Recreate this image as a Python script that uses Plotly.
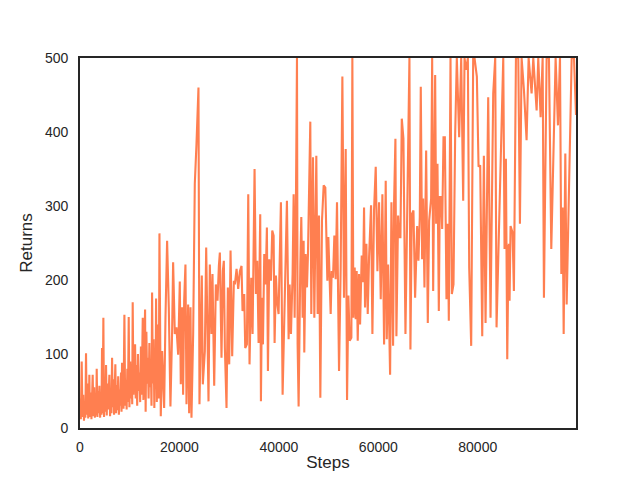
import plotly.graph_objects as go

early_steps = [0, 170, 340, 500, 650, 800, 950, 1080, 1210, 1350, 1500, 1650, 1800, 1880, 2000, 2150, 2300, 2420, 2550, 2700,
               2850, 3000, 3150, 3260, 3360, 3500, 3650, 3780, 3900, 4050, 4200, 4320, 4430, 4560, 4700, 4830, 4980, 5100, 5240, 5380,
               5520, 5650, 5780, 5910, 6050, 6180, 6320, 6450, 6580, 6720, 6850, 6980, 7110, 7250, 7400, 7540, 7680, 7820, 7960, 8100,
               8250, 8350, 8460, 8600, 8750, 8930, 9080, 9230, 9380, 9520, 9650, 9800, 9940, 10100, 10250, 10400, 10500, 10600, 10750, 10900,
               11080, 11200, 11350, 11500, 11650, 11800, 11950, 12100, 12250, 12400, 12520, 12620, 12750, 12900, 13090, 13200, 13350, 13500, 13650, 13800,
               13950, 14100, 14250, 14380, 14500, 14650, 14800, 14950, 15100, 15200, 15300, 15450, 15600, 15750, 15850, 15980]
early_returns = [40, 12, 90, 15, 45, 10, 30, 14, 101, 18, 60, 13, 35, 72, 15, 48, 12, 40, 72, 16,
                 55, 14, 38, 17, 80, 15, 50, 20, 57, 14, 42, 18, 108, 20, 149, 15, 55, 22, 85, 17,
                 60, 25, 45, 72, 16, 50, 20, 95, 28, 66, 18, 48, 86, 20, 58, 24, 70, 18, 52, 30,
                 75, 22, 88, 40, 26, 153, 30, 65, 25, 80, 35, 150, 28, 90, 40, 70, 32, 170, 45, 95,
                 113, 40, 85, 30, 100, 50, 75, 35, 110, 45, 80, 149, 38, 90, 160, 22, 130, 60, 95, 40,
                 115, 55, 80, 30, 183, 60, 120, 27, 100, 55, 175, 35, 140, 90, 40, 263]

mid_steps = [16250, 16520, 16920, 17190, 17520, 17860, 18190, 18530, 18730, 19070, 19400, 19740, 20070, 20270, 20540, 20740, 20950, 21210, 21420, 21750,
             21950, 22220, 22420, 22760, 23090, 23430, 23830, 24030, 24300, 24500, 24700, 25110, 25380, 25640, 25850, 26110, 26450, 26650, 26990, 27320,
             27660, 27930, 28130, 28460, 28730, 28930, 29140, 29470, 29740, 30010, 30280, 30610, 30950, 31150, 31490, 31820, 32160, 32490, 32690, 33030,
             33230, 33570, 33840, 34100, 34440, 34710, 35110, 35380, 35650, 35920, 36250, 36390, 36590, 36790, 37060, 37330, 37590, 37800, 38060, 38400,
             38670, 38940, 39140, 39410, 39610, 39940, 40410, 40750, 41150, 41620, 41960, 42160, 42430, 42760, 42970, 43170, 43440, 43640, 43770, 43970,
             44310, 44510, 44780, 44980, 45110, 45380, 45650, 45850, 46320, 46520, 46860, 47130, 47530, 47800, 48070, 48340, 48670, 49010, 49340]
mid_returns = [16, 104, 27, 149, 253, 163, 29, 131, 224, 127, 136, 99, 198, 59, 163, 45, 172, 221, 32, 167,
               20, 163, 14, 127, 330, 384, 460, 32, 176, 206, 59, 104, 244, 102, 36, 221, 127, 208, 57, 194,
               172, 219, 237, 95, 212, 226, 108, 27, 190, 86, 240, 97, 199, 194, 215, 188, 212, 219, 158, 181,
               108, 113, 316, 86, 203, 127, 350, 181, 226, 115, 289, 36, 176, 113, 235, 194, 271, 77, 228, 199,
               267, 260, 115, 206, 172, 154, 305, 45, 158, 307, 120, 194, 127, 208, 316, 149, 316, 500, 113, 29,
               221, 285, 149, 253, 102, 235, 190, 235, 414, 154, 366, 149, 368, 154, 287, 41, 280, 328, 325]

late_steps = [49750, 49950, 50220, 50420, 50620, 50890, 51160, 51420, 51690, 51890, 52100, 52430, 52770, 53100, 53440, 53710, 53980, 54240, 54580, 54780,
              54980, 55250, 55450, 55650, 55860, 56120, 56330, 56660, 56930, 57130, 57330, 57600, 57870, 58140, 58540, 58810, 59140, 59480, 59820, 60150,
              60490, 60820, 61160, 61490, 61700, 61960, 62370, 62640, 62970, 63170, 63440, 63640, 63980, 64180, 64450, 64720, 65050, 65460, 65790, 66060,
              66260, 66460, 66730, 67070, 67400, 67810, 68070, 68340, 68540, 68810, 69010, 69280, 69620, 69950, 70220, 70620, 70830, 71030, 71430, 71630,
              71900, 72170, 72370, 72640, 72840, 73110, 73380, 73710, 73980, 74180, 74520, 74790, 75120, 75460, 75790, 76260, 76670, 77070, 77340, 77670,
              78010, 78280, 78680, 79080, 79350, 79820, 80160, 80490, 80900, 81230, 81570, 82100, 82570, 83110, 83510, 83780, 85130, 85390, 85660, 85930,
              86200, 86400, 86600, 87000, 87270, 87680, 88150, 88480, 88820, 89290, 89820, 90230, 90500, 90830, 91170, 91500, 91840, 92170, 92640, 93050,
              93310, 93850, 94320, 94790, 95190, 95660, 96130, 96540, 96810, 97070, 97280, 97610, 97880, 98890, 99360, 99760]
late_returns = [199, 258, 199, 154, 212, 203, 260, 201, 305, 199, 77, 217, 475, 176, 377, 38, 179, 118, 122, 500,
                149, 217, 147, 212, 118, 208, 140, 233, 197, 298, 163, 249, 154, 231, 301, 127, 294, 353, 212, 305,
                174, 316, 113, 334, 120, 221, 72, 305, 111, 305, 391, 124, 287, 258, 258, 418, 391, 127, 258, 371,
                500, 106, 289, 294, 176, 273, 226, 285, 461, 228, 310, 190, 375, 142, 280, 310, 500, 185, 477, 276,
                357, 158, 312, 312, 269, 393, 393, 174, 276, 145, 500, 181, 194, 398, 500, 393, 500, 307, 500, 484,
                500, 217, 111, 500, 500, 475, 353, 355, 124, 368, 142, 447, 149, 452, 500, 136, 500, 242, 364, 93,
                249, 172, 273, 264, 185, 500, 500, 276, 500, 457, 389, 500, 477, 452, 500, 470, 429, 500, 420, 500,
                176, 500, 500, 242, 375, 500, 409, 500, 208, 298, 127, 371, 167, 500, 500, 423]

steps = early_steps + mid_steps + late_steps
returns = early_returns + mid_returns + late_returns

ink = "#262626"

fig = go.Figure(
    go.Scatter(x=steps, y=returns, mode="lines", line=dict(color="#FF7F50", width=2.1))
)
fig.update_xaxes(
    range=[0, steps[-1]], tickvals=[0, 20000, 40000, 60000, 80000], tickformat="d",
    showline=True, mirror=True, linecolor=ink, linewidth=1.6,
    showgrid=False, zeroline=False, automargin=False,
    ticks="outside", ticklen=5, tickcolor="rgba(0,0,0,0)",
    title=dict(text="Steps", standoff=7),
)
fig.update_yaxes(
    range=[0, 500], tickvals=[0, 100, 200, 300, 400, 500],
    showline=True, mirror=True, linecolor=ink, linewidth=1.6,
    showgrid=False, zeroline=False, automargin=False,
    ticks="outside", ticklen=7, tickcolor="rgba(0,0,0,0)",
    title=dict(text="Returns", standoff=8),
)
# page body keeps an 8px margin, so the figure is sized to fit inside it
fig.update_layout(
    width=624, height=464,
    margin=dict(l=72, r=56, t=50, b=44),
    plot_bgcolor="white", paper_bgcolor="white",
    font=dict(family="Liberation Sans, Arial", size=14, color=ink),
    showlegend=False,
)
fig.write_html("out.html")
